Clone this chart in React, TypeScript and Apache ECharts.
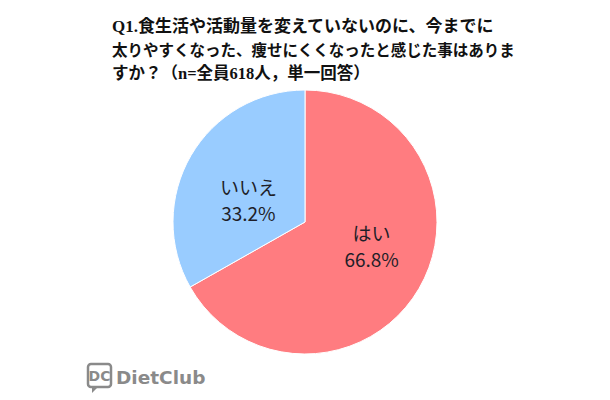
import React, { useEffect, useRef } from "react";
import * as echarts from "echarts";

const titleLines = [
  "Q1.食生活や活動量を変えていないのに、今までに",
  "太りやすくなった、痩せにくくなったと感じた事はありま",
  "すか？（n=全員618人，単一回答）",
];
const categories = ["はい", "いいえ"];
const values = [66.8, 33.2];
const colors = ["#FF7C80", "#99CCFF"];
const brand = "DietClub";

export default function App() {
  const ref = useRef<HTMLDivElement>(null);
  useEffect(() => {
    if (!ref.current) return;
    const chart = echarts.init(ref.current, null, { renderer: "svg" });
    const tFont = "'Liberation Serif', 'Noto Sans CJK JP', serif";
    chart.setOption({
      animation: false,
      backgroundColor: "#ffffff",
      title: {
        text: `{a|${titleLines[0]}}\n{b|${titleLines[1]}}\n{c|${titleLines[2]}}`,
        left: 107,
        top: 9,
        textStyle: {
          fontFamily: tFont,
          fontWeight: "bold",
          fontSize: 16,
          lineHeight: 24,
          color: "#111",
          rich: {
            a: { fontFamily: tFont, fontWeight: "bold", fontSize: 17, lineHeight: 24, color: "#111" },
            b: { fontFamily: tFont, fontWeight: "bold", fontSize: 15.5, lineHeight: 24, color: "#111" },
            c: { fontFamily: tFont, fontWeight: "bold", fontSize: 16.5, lineHeight: 23, color: "#111" },
          },
        },
      },
      series: [
        {
          type: "pie",
          center: [305, 222],
          radius: [0, 132],
          startAngle: 90,
          clockwise: true,
          label: {
            show: true,
            position: "inner",
            formatter: (p: any) => `${p.name}\n${p.value.toFixed(1)}%`,
            fontFamily: "'Noto Sans CJK JP', sans-serif",
            fontSize: 19,
            lineHeight: 26,
            color: "#1e1e28",
          },
          labelLayout: (p: any) => (p.dataIndex === 0 ? { dx: 7, dy: -11 } : { dx: 3, dy: 12 }),
          labelLine: { show: false },
          itemStyle: { borderColor: "#ffffff", borderWidth: 1 },
          data: categories.map((c, i) => ({
            name: c,
            value: values[i],
            itemStyle: { color: colors[i] },
          })),
        },
      ],
      graphic: [
        {
          type: "rect",
          shape: { x: 88, y: 364, width: 23, height: 23, r: 3 },
          style: { fill: "none", stroke: "#8a8a8a", lineWidth: 2.5 },
        },
        {
          type: "polygon",
          shape: { points: [[92, 386], [92, 393], [99, 386]] },
          style: { fill: "#8a8a8a" },
        },
        {
          type: "text",
          x: 99.5,
          y: 376,
          style: {
            text: "DC",
            fontSize: 14,
            fontWeight: "bold",
            fontFamily: "'DejaVu Sans', sans-serif",
            fill: "#8a8a8a",
            align: "center",
            verticalAlign: "middle",
          },
        },
        {
          type: "text",
          x: 116,
          y: 377,
          style: {
            text: brand,
            fontSize: 18.5,
            fontWeight: "bold",
            fontFamily: "'DejaVu Sans', sans-serif",
            fill: "#8a8a8a",
            verticalAlign: "middle",
          },
        },
      ],
    });
    return () => chart.dispose();
  }, []);
  return <div ref={ref} style={{ width: 610, height: 400, position: "absolute", left: 0, top: 0 }} />;
}
